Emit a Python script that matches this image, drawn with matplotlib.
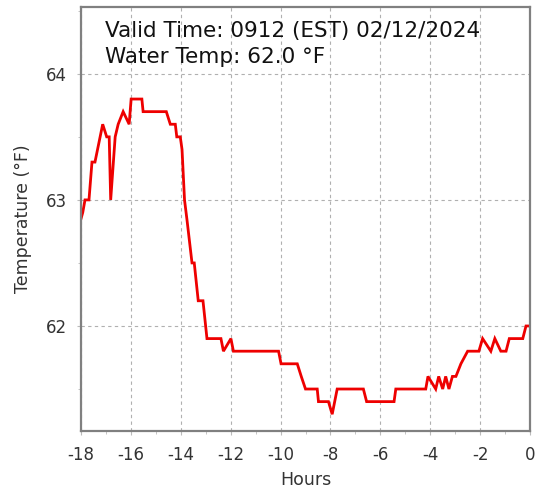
import matplotlib
matplotlib.use("Agg")
import matplotlib.pyplot as plt
from matplotlib.ticker import MultipleLocator

hours = [-18.0, -17.93, -17.84, -17.68, -17.56, -17.44, -17.13, -16.97, -16.87,
         -16.81, -16.63, -16.51, -16.31, -16.07, -15.99, -15.56, -15.51, -14.58,
         -14.42, -14.22, -14.16, -14.02, -13.95, -13.85, -13.75, -13.55, -13.46,
         -13.30, -13.11, -12.95, -12.39, -12.29, -11.99, -11.89, -10.08, -9.98,
         -9.33, -9.17, -9.0, -8.53, -8.48, -8.08, -7.93, -7.73, -6.68, -6.55,
         -5.45, -5.38, -4.18, -4.09, -3.78, -3.66, -3.50, -3.38, -3.25, -3.11,
         -2.97, -2.77, -2.50, -2.05, -1.90, -1.57, -1.41, -1.17, -0.96, -0.83,
         -0.29, -0.16, 0.0]
temps = [62.85, 62.9, 63.0, 63.0, 63.3, 63.3, 63.6, 63.5, 63.5,
         63.0, 63.5, 63.6, 63.7, 63.6, 63.8, 63.8, 63.7, 63.7,
         63.6, 63.6, 63.5, 63.5, 63.4, 63.0, 62.84, 62.5, 62.5,
         62.2, 62.2, 61.9, 61.9, 61.8, 61.9, 61.8, 61.8, 61.7,
         61.7, 61.6, 61.5, 61.5, 61.4, 61.4, 61.3, 61.5, 61.5, 61.4,
         61.4, 61.5, 61.5, 61.6, 61.5, 61.6, 61.5, 61.6, 61.5, 61.6,
         61.6, 61.7, 61.8, 61.8, 61.9, 61.8, 61.9, 61.8, 61.8, 61.9,
         61.9, 62.0, 62.0]

title_lines = ["Valid Time: 0912 (EST) 02/12/2024", "Water Temp: 62.0 \u00b0F"]
x_ticks = [-18, -16, -14, -12, -10, -8, -6, -4, -2, 0]
y_ticks = [62, 63, 64]

fig = plt.figure(figsize=(5.43, 4.91), dpi=100)
ax = fig.add_axes([81/543, 1-431/491, (530-81)/543, (431-7)/491])

ax.plot(hours, temps, color="#ee0000", lw=2.0, solid_joinstyle="miter")

ax.set_xlim(-18, 0)
ax.set_ylim(61.167, 64.53)
ax.set_xticks(x_ticks)
ax.set_xticklabels([str(v) for v in x_ticks])
ax.set_yticks(y_ticks)
ax.set_yticklabels([str(v) for v in y_ticks])
ax.xaxis.set_minor_locator(MultipleLocator(1))
ax.yaxis.set_minor_locator(MultipleLocator(0.5))

ax.grid(True, which="major", color="#b0b0b0", linestyle=(0, (3, 3)), lw=0.8)
ax.tick_params(which="both", direction="out", length=3, color="#bbbbbb",
               labelsize=12, labelcolor="#333333")
ax.tick_params(axis="x", which="major", pad=8)
ax.tick_params(axis="y", which="major", pad=7)
ax.tick_params(which="minor", length=2)
for s in ax.spines.values():
    s.set_color("#808080")
    s.set_linewidth(1.6)

ax.set_xlabel("Hours", fontsize=12.5, color="#333333", labelpad=5)
ax.set_ylabel("Temperature (\u00b0F)", fontsize=12.5, color="#333333", labelpad=10)

ax.text(0.0536, 0.929, title_lines[0], transform=ax.transAxes,
        fontsize=15.5, color="#111111", va="baseline", ha="left")
ax.text(0.0536, 0.868, title_lines[1], transform=ax.transAxes,
        fontsize=15.5, color="#111111", va="baseline", ha="left")

fig.savefig("out.png", dpi=100)
